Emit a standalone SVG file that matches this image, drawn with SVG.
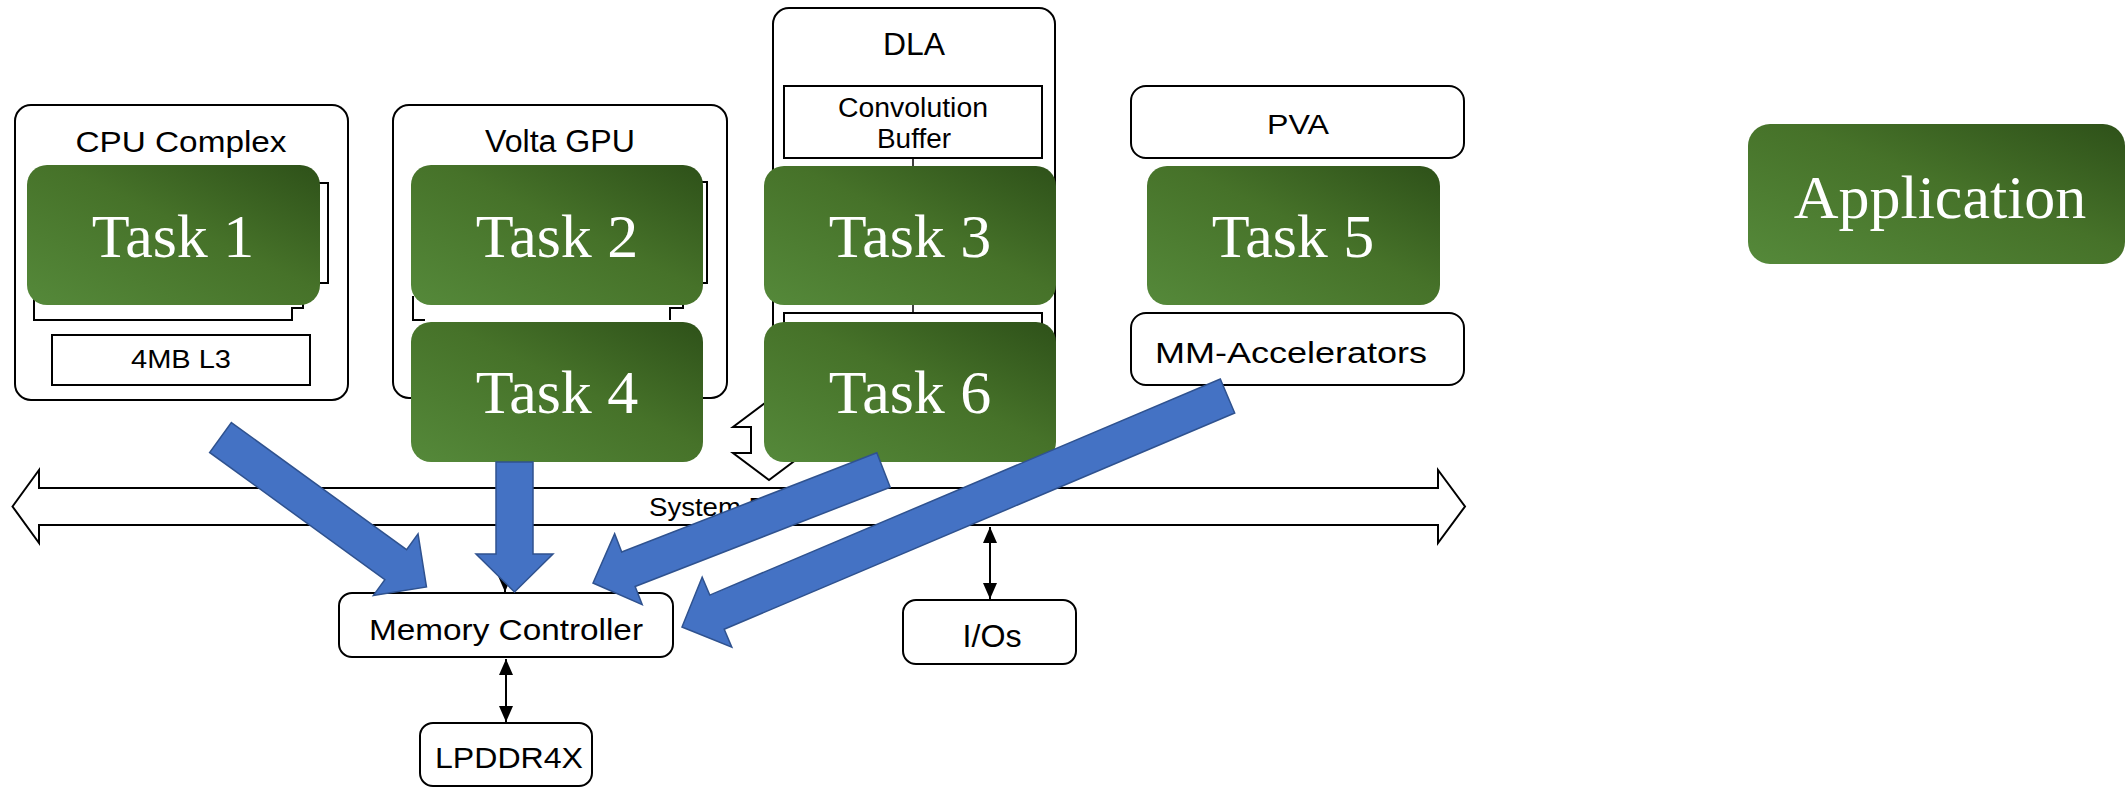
<svg xmlns="http://www.w3.org/2000/svg" width="2126" height="788" viewBox="0 0 2126 788">
  <defs>
    <linearGradient id="taskFill" x1="0" y1="1" x2="1" y2="0">
      <stop offset="0" stop-color="#55893a"/>
      <stop offset="0.55" stop-color="#467229"/>
      <stop offset="1" stop-color="#2e5119"/>
    </linearGradient>
    <marker id="tip" viewBox="0 0 16 14" refX="16" refY="7" markerWidth="16" markerHeight="14" markerUnits="userSpaceOnUse" orient="auto-start-reverse">
      <path d="M0,0 L16,7 L0,14 Z" fill="#000"/>
    </marker>
    <style>
      .block { fill: #fff; stroke: #000; stroke-width: 2; }
      .frag { fill: none; stroke: #000; stroke-width: 2; }
      .lbl { font-family: "Liberation Sans", Arial, sans-serif; fill: #000; text-anchor: middle; }
      .task { fill: url(#taskFill); }
      .tasklbl { font-family: "Liberation Serif", "Times New Roman", serif; font-size: 62px; fill: #fff; text-anchor: middle; }
      .wire { fill: none; stroke: #000; stroke-width: 2; marker-start: url(#tip); marker-end: url(#tip); }
      .flow { fill: #4472c4; stroke: #2f528f; stroke-width: 1.5; }
    </style>
  </defs>

  <rect width="2126" height="788" fill="#fff"/>

  <!-- CPU complex with its L3 cache -->
  <g id="cpu-complex">
    <rect class="block" x="15" y="105" width="333" height="295" rx="16"/>
    <text class="lbl" x="181" y="152" font-size="30" textLength="211" lengthAdjust="spacingAndGlyphs">CPU Complex</text>
    <path class="frag" d="M318,183 H328 V283 H318"/>
    <path class="frag" d="M34,296 V320 H292 V308 H303 V302"/>
    <rect class="block" x="52" y="335" width="258" height="50"/>
    <text class="lbl" x="181" y="368" font-size="26" textLength="100" lengthAdjust="spacingAndGlyphs">4MB L3</text>
  </g>

  <!-- GPU -->
  <g id="volta-gpu">
    <rect class="block" x="393" y="105" width="334" height="293" rx="16"/>
    <text class="lbl" x="560" y="152" font-size="31" textLength="150" lengthAdjust="spacingAndGlyphs">Volta GPU</text>
    <path class="frag" d="M698,182 H707 V283 H698"/>
    <path class="frag" d="M413,296 V320 H425"/>
    <path class="frag" d="M670,320 V308 H683 V302"/>
  </g>

  <!-- Deep learning accelerator -->
  <g id="dla">
    <rect class="block" x="773" y="8" width="282" height="392" rx="16"/>
    <text class="lbl" x="914" y="55" font-size="31" textLength="62" lengthAdjust="spacingAndGlyphs">DLA</text>
    <rect class="block" x="784" y="86" width="258" height="72"/>
    <text class="lbl" x="913" y="117" font-size="27" textLength="150" lengthAdjust="spacingAndGlyphs">Convolution</text>
    <text class="lbl" x="914" y="148" font-size="27" textLength="74" lengthAdjust="spacingAndGlyphs">Buffer</text>
    <line x1="913" y1="158" x2="913" y2="168" stroke="#000" stroke-width="1.5"/>
    <rect class="block" x="784" y="313" width="258" height="60"/>
    <line x1="913" y1="300" x2="913" y2="313" stroke="#000" stroke-width="1.5"/>
    <!-- hollow up/down link to the system bus -->
    <path class="block" d="M769,400 L805,427 H787 V453 H805 L769,480 L733,453 H751 V427 H733 Z"/>
  </g>

  <!-- Vision accelerator -->
  <g id="pva">
    <rect class="block" x="1131" y="86" width="333" height="72" rx="15"/>
    <text class="lbl" x="1298" y="134" font-size="27" textLength="62" lengthAdjust="spacingAndGlyphs">PVA</text>
  </g>

  <g id="mm-accelerators">
    <rect class="block" x="1131" y="313" width="333" height="72" rx="15"/>
    <text class="lbl" x="1291" y="363" font-size="30" textLength="272" lengthAdjust="spacingAndGlyphs">MM-Accelerators</text>
  </g>

  <g id="memory-controller">
    <rect class="block" x="339" y="593" width="334" height="64" rx="13"/>
    <text class="lbl" x="506" y="640" font-size="30" textLength="274" lengthAdjust="spacingAndGlyphs">Memory Controller</text>
  </g>

  <g id="lpddr4x">
    <rect class="block" x="420" y="723" width="172" height="63" rx="13"/>
    <text class="lbl" x="509" y="768" font-size="30" textLength="148" lengthAdjust="spacingAndGlyphs">LPDDR4X</text>
  </g>

  <g id="ios">
    <rect class="block" x="903" y="600" width="173" height="64" rx="13"/>
    <text class="lbl" x="992" y="647" font-size="31" textLength="59" lengthAdjust="spacingAndGlyphs">I/Os</text>
  </g>

  <!-- Tasks mapped onto the engines -->
  <g id="task-1">
    <rect class="task" x="27" y="165" width="293" height="140" rx="20"/>
    <text class="tasklbl" x="173" y="257">Task 1</text>
  </g>
  <g id="task-2">
    <rect class="task" x="411" y="165" width="292" height="140" rx="20"/>
    <text class="tasklbl" x="557" y="257">Task 2</text>
  </g>
  <g id="task-3">
    <rect class="task" x="764" y="166" width="292" height="139" rx="20"/>
    <text class="tasklbl" x="910" y="257">Task 3</text>
  </g>
  <g id="task-4">
    <rect class="task" x="411" y="322" width="292" height="140" rx="20"/>
    <text class="tasklbl" x="557" y="413">Task 4</text>
  </g>
  <g id="task-5">
    <rect class="task" x="1147" y="166" width="293" height="139" rx="20"/>
    <text class="tasklbl" x="1293" y="257">Task 5</text>
  </g>
  <g id="task-6">
    <rect class="task" x="764" y="322" width="292" height="140" rx="20"/>
    <text class="tasklbl" x="910" y="413">Task 6</text>
  </g>
  <g id="application">
    <rect class="task" x="1748" y="124" width="377" height="140" rx="22"/>
    <text class="tasklbl" x="1940" y="218" font-size="66">Application</text>
  </g>

  <g id="connectors">
    <!-- system bus -->
    <path class="block" d="M12.5,506.5 L39,470 V488 H1438 V470 L1465,506.5 L1438,543 V525 H39 V543 Z"/>
    <text x="649" y="516" font-family="'Liberation Sans', Arial, sans-serif" font-size="25" textLength="147" lengthAdjust="spacingAndGlyphs">System Bus</text>
    <!-- thin bidirectional links -->
    <line class="wire" x1="505" y1="526" x2="505" y2="592"/>
    <line class="wire" x1="506" y1="659" x2="506" y2="722"/>
    <line class="wire" x1="990" y1="527" x2="990" y2="599"/>
    <!-- memory traffic from each task -->
    <path class="flow" transform="translate(220.5,437.5) rotate(35.97)" d="M0,-18.5 H216.5 V-38 L254.5,0 L216.5,38 V18.5 H0 Z"/>
    <path class="flow" transform="translate(514.5,462) rotate(90)" d="M0,-18.5 H92 V-38.5 L130,0 L92,38.5 V18.5 H0 Z"/>
    <path class="flow" transform="translate(883.5,470) rotate(158.74)" d="M0,-18.5 H273.7 V-38 L311.7,0 L273.7,38 V18.5 H0 Z"/>
    <path class="flow" transform="translate(1227.5,396) rotate(157.05)" d="M0,-18.5 H554.4 V-38 L592.4,0 L554.4,38 V18.5 H0 Z"/>
  </g>
</svg>
